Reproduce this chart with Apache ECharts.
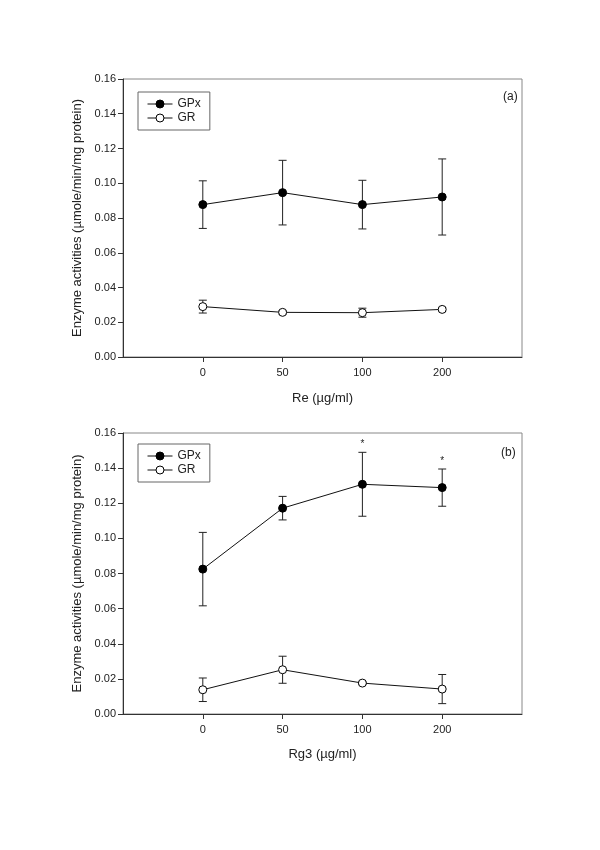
<!DOCTYPE html>
<html><head><meta charset="utf-8">
<script src="https://cdn.jsdelivr.net/npm/echarts@6/dist/echarts.min.js"></script>
<style>html,body{margin:0;padding:0;background:#fff}#c{width:600px;height:850px}</style>
</head><body><div id="c"></div>
<script>
const doses = ['0', '50', '100', '200'];
const reGPx = [0.0877, 0.0946, 0.0877, 0.0921];
const reGPxErr = [0.0137, 0.0186, 0.0140, 0.0219];
const reGR = [0.0290, 0.0257, 0.0255, 0.0274];
const reGRErr = [0.0037, 0.0010, 0.0026, 0.0010];
const rg3GPx = [0.0825, 0.1172, 0.1308, 0.1289];
const rg3GPxErr = [0.0209, 0.0067, 0.0182, 0.0106];
const rg3GR = [0.0138, 0.0252, 0.0176, 0.0142];
const rg3GRErr = [0.0067, 0.0077, 0.0008, 0.0083];
const rg3GPxSig = [false, false, true, true];
const panelLabels = ['(a)', '(b)'];
const xNames = ['Re (\u00b5g/ml)', 'Rg3 (\u00b5g/ml)'];
const yName = 'Enzyme activities (\u00b5mole/min/mg protein)';

const FONT = '"Liberation Sans", Arial, sans-serif';
const TXT = '#222';
const axisCats = ['lo', ...doses, 'hi'];
const isDose = v => doses.indexOf(v) >= 0;

function pts(vals) { return vals.map((v, i) => [i + 1, v]); }
function errData(vals, errs, sig) {
  return vals.map((v, i) => [i + 1, v - errs[i], v + errs[i], sig && sig[i] ? 1 : 0]);
}
function renderErr(params, api) {
  const x = api.value(0), lo = api.value(1), hi = api.value(2);
  const p1 = api.coord([x, hi]), p2 = api.coord([x, lo]);
  const hw = 4;
  const style = { stroke: '#222', lineWidth: 1 };
  const children = [
    { type: 'line', shape: { x1: p1[0], y1: p1[1], x2: p2[0], y2: p2[1] }, style },
    { type: 'line', shape: { x1: p1[0] - hw, y1: p1[1], x2: p1[0] + hw, y2: p1[1] }, style },
    { type: 'line', shape: { x1: p2[0] - hw, y1: p2[1], x2: p2[0] + hw, y2: p2[1] }, style }
  ];
  if (api.value(3)) {
    children.push({ type: 'text', x: p1[0], y: p1[1] - 3,
      style: { text: '*', fill: '#222', fontSize: 10, fontFamily: FONT, align: 'center', verticalAlign: 'bottom' } });
  }
  return { type: 'group', children };
}

const grids = [
  { left: 123, top: 79, width: 399, height: 278 },
  { left: 123, top: 433, width: 399, height: 281 }
];

function xAxis(i) {
  return {
    type: 'category', gridIndex: i, data: axisCats, boundaryGap: false,
    name: xNames[i], nameLocation: 'middle', nameGap: i === 0 ? 35 : 34,
    nameTextStyle: { fontSize: 13, color: TXT, fontFamily: FONT },
    axisLine: { lineStyle: { color: '#333', width: 1 } },
    axisTick: { show: true, length: 5, interval: (idx, v) => isDose(v), lineStyle: { color: '#333' } },
    axisLabel: { interval: (idx, v) => isDose(v), formatter: v => isDose(v) ? v : '', margin: 10,
      fontSize: 11, color: TXT, fontFamily: FONT },
    splitLine: { show: false }
  };
}
function yAxis(i) {
  return {
    type: 'value', gridIndex: i, min: 0, max: 0.16, interval: 0.02,
    name: yName, nameLocation: 'middle', nameGap: 38, nameRotate: 90,
    nameTextStyle: { fontSize: 13, color: TXT, fontFamily: FONT },
    axisLine: { show: true, lineStyle: { color: '#333', width: 1 } },
    axisTick: { show: true, length: 5, lineStyle: { color: '#333' } },
    axisLabel: { formatter: v => v.toFixed(2), margin: 7, fontSize: 11, color: TXT, fontFamily: FONT },
    splitLine: { show: false }
  };
}

function lineSeries(name, data, filled, i) {
  return {
    type: 'line', name, xAxisIndex: i, yAxisIndex: i, data: pts(data),
    symbol: 'circle', symbolSize: 8, showSymbol: true,
    lineStyle: { color: '#111', width: 1 },
    itemStyle: { color: filled ? '#000' : '#fff', borderColor: '#000', borderWidth: 1 },
    z: 5
  };
}
function errSeries(vals, errs, sig, i) {
  return { type: 'custom', xAxisIndex: i, yAxisIndex: i, data: errData(vals, errs, sig),
    renderItem: renderErr, encode: { x: 0, y: [1, 2] }, z: 3, silent: true };
}

function legend(top) {
  return {
    left: 138, top, orient: 'vertical', data: ['GPx', 'GR'],
    itemWidth: 25, itemHeight: 10, itemGap: 2, padding: [6, 9, 6, 9],
    borderColor: '#666', borderWidth: 1,
    lineStyle: { width: 1, color: '#111' },
    itemStyle: { borderWidth: 1, borderColor: '#000' },
    textStyle: { fontSize: 12, color: TXT, fontFamily: FONT },
    selectedMode: false
  };
}

const chart = echarts.init(document.getElementById('c'), null, { renderer: 'canvas' });
chart.setOption({
  animation: false,
  backgroundColor: '#fff',
  textStyle: { fontFamily: FONT },
  title: [
    { text: panelLabels[0], left: 498, top: 86, textStyle: { fontSize: 12, fontWeight: 'normal', color: TXT, fontFamily: FONT } },
    { text: panelLabels[1], left: 496, top: 442, textStyle: { fontSize: 12, fontWeight: 'normal', color: TXT, fontFamily: FONT } }
  ],
  grid: grids.map(g => Object.assign({ show: true, borderColor: '#888', borderWidth: 1, backgroundColor: 'transparent' }, g)),
  legend: [legend(92), legend(444)],
  xAxis: [xAxis(0), xAxis(1)],
  yAxis: [yAxis(0), yAxis(1)],
  series: [
    errSeries(reGPx, reGPxErr, null, 0),
    errSeries(reGR, reGRErr, null, 0),
    lineSeries('GPx', reGPx, true, 0),
    lineSeries('GR', reGR, false, 0),
    errSeries(rg3GPx, rg3GPxErr, rg3GPxSig, 1),
    errSeries(rg3GR, rg3GRErr, null, 1),
    lineSeries('GPx', rg3GPx, true, 1),
    lineSeries('GR', rg3GR, false, 1)
  ]
});
</script>
</body></html>
